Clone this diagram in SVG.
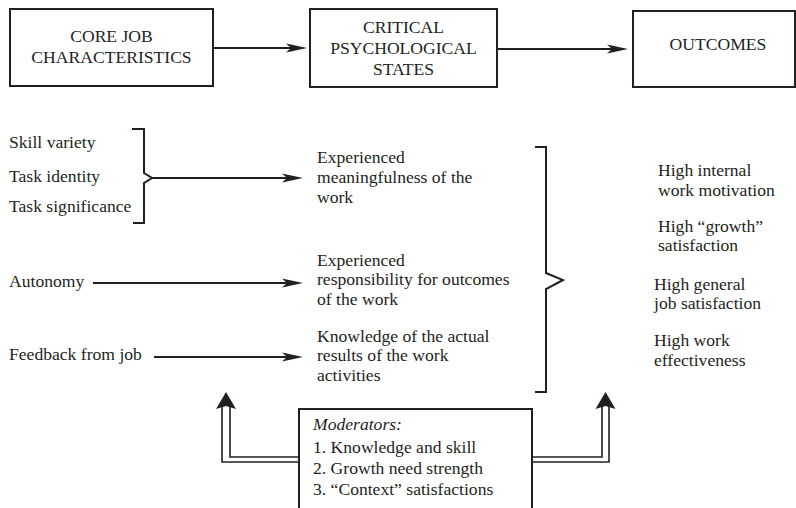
<svg xmlns="http://www.w3.org/2000/svg" width="796" height="508" viewBox="0 0 796 508" font-family="Liberation Serif, DejaVu Serif, serif">
<style>
text{font-family:"Liberation Serif","DejaVu Serif",serif;font-size:17.6px;fill:#231f20}
.c{text-anchor:middle}
.box{fill:#fff;stroke:#231f20;stroke-width:2}
.ln{fill:none;stroke:#231f20;stroke-width:2}
.dl{fill:none;stroke:#231f20;stroke-width:1.6}
.hd{fill:#231f20;stroke:none}
</style>
<defs>
<marker id="arr" markerUnits="userSpaceOnUse" markerWidth="22" markerHeight="12" viewBox="0 0 22 12" refX="15" refY="6" orient="auto">
<path d="M0,1.5 L21,6 L0,10.5 L5,6 z" fill="#231f20"/>
</marker>
</defs>
<rect width="796" height="508" fill="#fff"/>
<g id="connectors">
<line class="ln" x1="213" y1="48" x2="301" y2="48" marker-end="url(#arr)"/>
<line class="ln" x1="497" y1="49" x2="622" y2="49" marker-end="url(#arr)"/>
<path class="ln" d="M132,129 H144 V173 L152,178 L144,183 V223 H133"/>
<line class="ln" x1="152" y1="178" x2="297" y2="178" marker-end="url(#arr)"/>
<line class="ln" x1="93" y1="283" x2="297" y2="283" marker-end="url(#arr)"/>
<line class="ln" x1="154" y1="357" x2="297" y2="357" marker-end="url(#arr)"/>
<path class="ln" d="M535,147 H546 V273 L563,280 L546,289 V392 H535"/>
<path class="dl" d="M300,462 H222 V406"/>
<path class="dl" d="M300,457 H230 V406"/>
<path class="hd" d="M226,392 L236,409 L226,406 L216,409 z"/>
<path class="dl" d="M532,457 H602 V406"/>
<path class="dl" d="M532,462 H609 V406"/>
<path class="hd" d="M605.5,392 L615.5,409 L605.5,406 L595.5,409 z"/>
</g>
<g id="core">
<rect class="box" x="10" y="9" width="203" height="77"/>
<text class="c" x="111.5" y="42">CORE JOB</text>
<text class="c" x="111.5" y="63">CHARACTERISTICS</text>
</g>
<g id="critical">
<rect class="box" x="310" y="9" width="187" height="78"/>
<text class="c" x="403.5" y="33">CRITICAL</text>
<text class="c" x="403.5" y="54">PSYCHOLOGICAL</text>
<text class="c" x="403.5" y="75">STATES</text>
</g>
<g id="outcomes">
<rect class="box" x="633" y="11" width="162" height="76"/>
<text class="c" x="718" y="50">OUTCOMES</text>
</g>
<g id="characteristics">
<text x="9" y="148">Skill variety</text>
<text x="9" y="182">Task identity</text>
<text x="9" y="212">Task significance</text>
<text x="9" y="287">Autonomy</text>
<text x="9" y="360">Feedback from job</text>
</g>
<g id="states">
<text x="317" y="163">Experienced</text>
<text x="317" y="183">meaningfulness of the</text>
<text x="317" y="203">work</text>
<text x="317" y="265.5">Experienced</text>
<text x="317" y="285.2">responsibility for outcomes</text>
<text x="317" y="304.9">of the work</text>
<text x="317" y="341.5">Knowledge of the actual</text>
<text x="317" y="361.2">results of the work</text>
<text x="317" y="380.9">activities</text>
</g>
<g id="results">
<text x="658" y="176">High internal</text>
<text x="658" y="195.7">work motivation</text>
<text x="658" y="231.5">High “growth”</text>
<text x="658" y="251.2">satisfaction</text>
<text x="654" y="289.5">High general</text>
<text x="654" y="309.2">job satisfaction</text>
<text x="654" y="345.8">High work</text>
<text x="654" y="365.5">effectiveness</text>
</g>
<g id="moderators">
<rect class="box" x="299" y="409" width="233" height="110"/>
<text x="313" y="430" font-style="italic">Moderators:</text>
<text x="313" y="453">1. Knowledge and skill</text>
<text x="313" y="474">2. Growth need strength</text>
<text x="313" y="495">3. “Context” satisfactions</text>
</g>
</svg>
